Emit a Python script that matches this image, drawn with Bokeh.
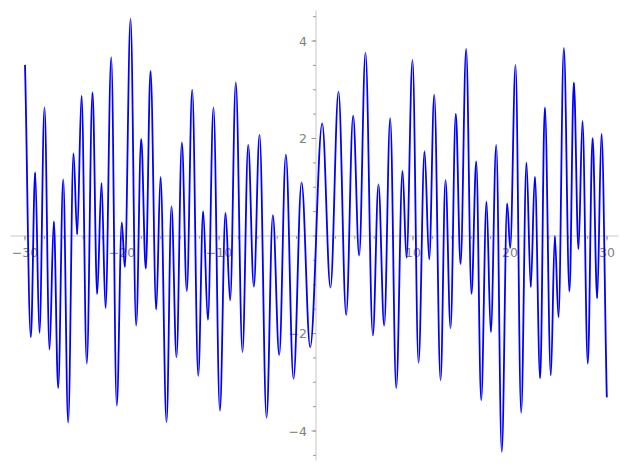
import numpy as np
from bokeh.plotting import figure
from bokeh.models import Range1d, ColumnDataSource
from bokeh.core.properties import value
from bokeh.embed import file_html
from bokeh.resources import INLINE

# Curve: start point, local extrema, end point
ext_x = [-30.00, -29.40, -28.95, -28.51, -27.99, -27.47, -27.03, -26.58, -26.06, -25.55,
         -25.00, -24.62, -24.17, -23.63, -23.04, -22.56, -22.11, -21.70, -21.11, -20.54,
         -20.02, -19.71, -19.12, -18.54, -18.02, -17.55, -17.06, -16.47, -16.03, -15.41,
         -14.90, -14.38, -13.83, -13.32, -12.76, -12.14, -11.63, -11.15, -10.57, -9.91,
         -9.33, -8.85, -8.27, -7.58, -6.99, -6.41, -5.82, -5.10, -4.45, -3.79,
         -3.11, -2.32, -1.49, -0.60, 0.64, 1.49, 2.32, 3.11, 3.83, 4.45,
         5.10, 5.86, 6.44, 7.03, 7.65, 8.27, 8.92, 9.33, 9.95, 10.57,
         11.19, 11.67, 12.19, 12.84, 13.35, 13.87, 14.41, 14.90, 15.48, 16.03,
         16.52, 17.03, 17.58, 18.02, 18.58, 19.15, 19.71, 20.02, 20.57, 21.15,
         21.70, 22.14, 22.56, 23.11, 23.59, 24.21, 24.62, 25.00, 25.55, 26.13,
         26.58, 27.06, 27.47, 28.02, 28.51, 28.99, 29.43, 29.98]
ext_y = [3.51, -2.08, 1.31, -1.99, 2.64, -2.33, 0.30, -3.12, 1.16, -3.83,
         1.70, 0.03, 2.88, -2.62, 2.95, -1.19, 1.09, -1.48, 3.67, -3.48,
         0.28, -0.64, 4.46, -1.84, 1.99, -0.67, 3.39, -1.51, 1.21, -3.82,
         0.61, -2.49, 1.92, -1.13, 3.00, -2.87, 0.51, -1.72, 2.64, -3.58,
         0.48, -1.32, 3.15, -2.38, 1.87, -1.04, 2.08, -3.73, 0.43, -2.44,
         1.67, -2.93, 1.10, -2.28, 2.31, -1.06, 2.96, -1.62, 2.47, -0.40,
         3.76, -2.04, 1.06, -1.84, 2.42, -3.12, 1.34, -0.45, 3.61, -2.60,
         1.74, -0.48, 2.90, -2.96, 1.15, -1.89, 2.51, -0.58, 3.84, -1.19,
         1.53, -3.37, 0.71, -1.97, 1.87, -4.43, 0.67, -0.25, 3.51, -3.63,
         1.51, -1.05, 1.22, -2.92, 2.64, -2.86, 0.00, -1.67, 3.86, -1.14,
         3.15, -0.27, 2.36, -2.62, 2.01, -1.28, 2.10, -3.31]

x_major = [-30, -20, -10, 10, 20, 30]
x_major_labels = ["\u221230", "\u221220", "\u221210", "10", "20", "30"]
x_minor = [-30, -28, -26, -24, -22, -20, -18, -16, -14, -12, -10, -8, -6, -4, -2, 0,
           2, 4, 6, 8, 10, 12, 14, 16, 18, 20, 22, 24, 26, 28, 30]
y_major = [-4, -2, 2, 4]
y_major_labels = ["\u22124", "\u22122", "2", "4"]
y_minor = [-4.5, -4.0, -3.5, -3.0, -2.5, -2.0, -1.5, -1.0, -0.5, 0.0,
           0.5, 1.0, 1.5, 2.0, 2.5, 3.0, 3.5, 4.0, 4.5]

W, H = 619, 462
XR = (-32.526, 31.288)
YR = (-4.646, 4.831)
px_x = W / (XR[1] - XR[0])   # pixels per x unit
px_y = H / (YR[1] - YR[0])   # pixels per y unit

p = figure(width=W, height=H, x_range=Range1d(*XR), y_range=Range1d(*YR),
           output_backend="svg", toolbar_location=None,
           x_axis_location=None, y_axis_location=None,
           min_border=0, min_border_left=0, min_border_right=0,
           min_border_top=0, min_border_bottom=0)
p.outline_line_color = None
p.grid.visible = False
p.background_fill_color = "white"
p.border_fill_color = "white"

axis_col = "#e3e3e3"
tick_col = "#9a9a9a"
lab_col = "#808080"

# axis lines crossing at the origin
p.segment(x0=[-31.49], y0=[0], x1=[31.19], y1=[0], line_color=axis_col, line_width=2)
p.segment(x0=[0], y0=[-4.605], x1=[0], y1=[4.626], line_color=axis_col, line_width=2)

# ticks
xmin = np.array(x_minor, dtype=float)
p.segment(x0=xmin, y0=np.zeros_like(xmin), x1=xmin, y1=np.full_like(xmin, -3.0 / px_y),
          line_color=tick_col, line_width=1)
xmaj = np.array(x_major, dtype=float)
p.segment(x0=xmaj, y0=np.zeros_like(xmaj), x1=xmaj, y1=np.full_like(xmaj, -4.5 / px_y),
          line_color=tick_col, line_width=1)
ymin = np.array(y_minor, dtype=float)
p.segment(x0=np.zeros_like(ymin), y0=ymin, x1=np.full_like(ymin, -3.0 / px_x), y1=ymin,
          line_color=tick_col, line_width=1)
ymaj = np.array(y_major, dtype=float)
p.segment(x0=np.zeros_like(ymaj), y0=ymaj, x1=np.full_like(ymaj, -4.5 / px_x), y1=ymaj,
          line_color=tick_col, line_width=1)

# tick labels
p.text(x=x_major, y=[0] * len(x_major), text=x_major_labels, text_align="center",
       text_baseline="middle", y_offset=16.5, text_color=lab_col,
       text_font=value("DejaVu Sans"), text_font_size="12.5px")
p.text(x=[0] * len(y_major), y=y_major, text=y_major_labels, text_align="right",
       text_baseline="middle", x_offset=-9, text_color=lab_col,
       text_font=value("DejaVu Sans"), text_font_size="12.5px")

# smooth curve through the read points (cubic Bezier segments, flat at extrema)
ex = np.array(ext_x)
ey = np.array(ext_y)
x0, x1 = ex[:-1], ex[1:]
y0, y1 = ey[:-1], ey[1:]
dx = x1 - x0
k = 0.364
cx0 = x0 + k * dx
cy0 = y0.copy()
cx1 = x1 - k * dx
cy1 = y1.copy()
cy0[0] = y0[0] + (y1[0] - y0[0]) * 0.3
cy1[-1] = y1[-1] - (y1[-1] - y0[-1]) * 0.3
src = ColumnDataSource(dict(x0=x0, y0=y0, x1=x1, y1=y1, cx0=cx0, cy0=cy0, cx1=cx1, cy1=cy1))
p.bezier(x0="x0", y0="y0", x1="x1", y1="y1", cx0="cx0", cy0="cy0", cx1="cx1", cy1="cy1",
         source=src, line_color="#0000ff", line_width=1.8)

open("out.html", "w").write(file_html(p, INLINE))
